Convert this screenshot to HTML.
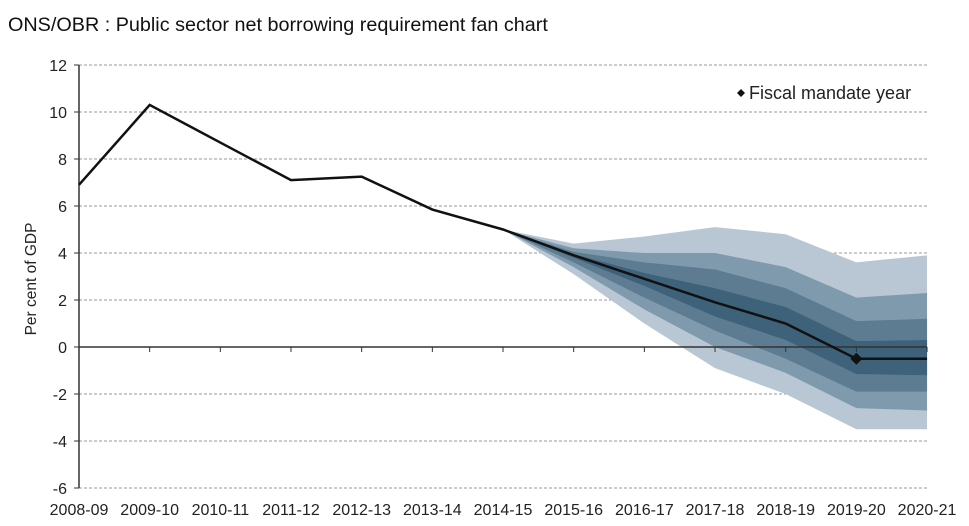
<!DOCTYPE html>
<html><head><meta charset="utf-8"><style>
html,body{margin:0;padding:0;background:#fff;}
svg{display:block;font-family:"Liberation Sans",sans-serif;}
</style></head><body>
<svg id="c" width="969" height="526">
<text x="8" y="31" font-size="19.8" fill="#111">ONS/OBR : Public sector net borrowing requirement fan chart</text>
<text transform="translate(36,279) rotate(-90)" text-anchor="middle" font-size="15.5" fill="#222">Per cent of GDP</text>
<g id="grid"></g><g id="fan"></g><g id="axes"></g><g id="line"></g>
<g>
<path d="M737 93 l4 -4 l4 4 l-4 4z" fill="#111"></path>
<text x="749" y="99" font-size="18" fill="#222">Fiscal mandate year</text></g>
</svg>
<script>
const categories=["2008-09","2009-10","2010-11","2011-12","2012-13","2013-14","2014-15","2015-16","2016-17","2017-18","2018-19","2019-20","2020-21"];
const central=[6.9,10.3,8.7,7.1,7.25,5.85,5.0,3.9,2.9,1.9,1.0,-0.5,-0.5];
const fanStart=6;
const upper3=[5.0,4.4,4.7,5.1,4.8,3.6,3.9];
const upper2=[5.0,4.2,4.0,4.0,3.4,2.1,2.3];
const upper1=[5.0,4.05,3.6,3.3,2.5,1.1,1.2];
const upper0=[5.0,3.95,3.15,2.5,1.7,0.25,0.3];
const lower0=[5.0,3.8,2.6,1.3,0.3,-1.15,-1.2];
const lower1=[5.0,3.6,2.1,0.7,-0.5,-1.9,-1.9];
const lower2=[5.0,3.4,1.6,0.0,-1.1,-2.6,-2.7];
const lower3=[5.0,3.1,1.0,-0.9,-2.0,-3.5,-3.5];
const yTicks=[12,10,8,6,4,2,0,-2,-4,-6];
const mandateIndex=11;
const NS="http://www.w3.org/2000/svg";
const X=i=>79+i*70.67, Y=v=>347-v*23.5;
function mk(t,a,p){const e=document.createElementNS(NS,t);for(const k in a)e.setAttribute(k,a[k]);document.getElementById(p).appendChild(e);return e;}
yTicks.forEach(v=>{
 if(v!==0){const g=mk('line',{x1:79,x2:928,y1:Y(v),y2:Y(v),stroke:'#999','stroke-dasharray':'3,2','stroke-width':1},'grid');
 
 }
 const t=mk('text',{x:67,y:Y(v)+6,'text-anchor':'end','font-size':16,fill:'#222'},'axes');t.textContent=v;
 
 
 mk('line',{x1:74,x2:79,y1:Y(v),y2:Y(v),stroke:'#333'},'axes');
});
const bands=[[upper3,lower3,'#b8c7d3'],[upper2,lower2,'#7f9aad'],[upper1,lower1,'#5d7c91'],[upper0,lower0,'#3e627a']];
bands.forEach((b,k)=>{
 const pts=[];b[0].forEach((v,i)=>pts.push(X(fanStart+i)+','+Y(v)));
 for(let i=b[1].length-1;i>=0;i--)pts.push(X(fanStart+i)+','+Y(b[1][i]));
 const p=mk('polygon',{points:pts.join(' '),fill:b[2]},'fan');
 
 
});
mk('line',{x1:79,x2:79,y1:Y(12),y2:Y(-6),stroke:'#333','stroke-width':1.5},'axes');
mk('line',{x1:79,x2:X(12),y1:Y(0),y2:Y(0),stroke:'#333','stroke-width':1.5},'axes');
categories.forEach((c,i)=>{
 if(i>0)mk('line',{x1:X(i),x2:X(i),y1:Y(0),y2:Y(0)+5,stroke:'#333'},'axes');
 const t=mk('text',{x:X(i),y:515,'text-anchor':'middle','font-size':16,fill:'#222'},'axes');t.textContent=c;
 
 
});
const l=mk('polyline',{points:central.map((v,i)=>X(i)+','+Y(v)).join(' '),fill:'none',stroke:'#111','stroke-width':2.5},'line');


const mx=X(mandateIndex),my=Y(central[mandateIndex]);
const d=mk('path',{d:`M${mx-6} ${my} l6 -6 l6 6 l-6 6z`,fill:'#111'},'line');


</script>
</body></html>
